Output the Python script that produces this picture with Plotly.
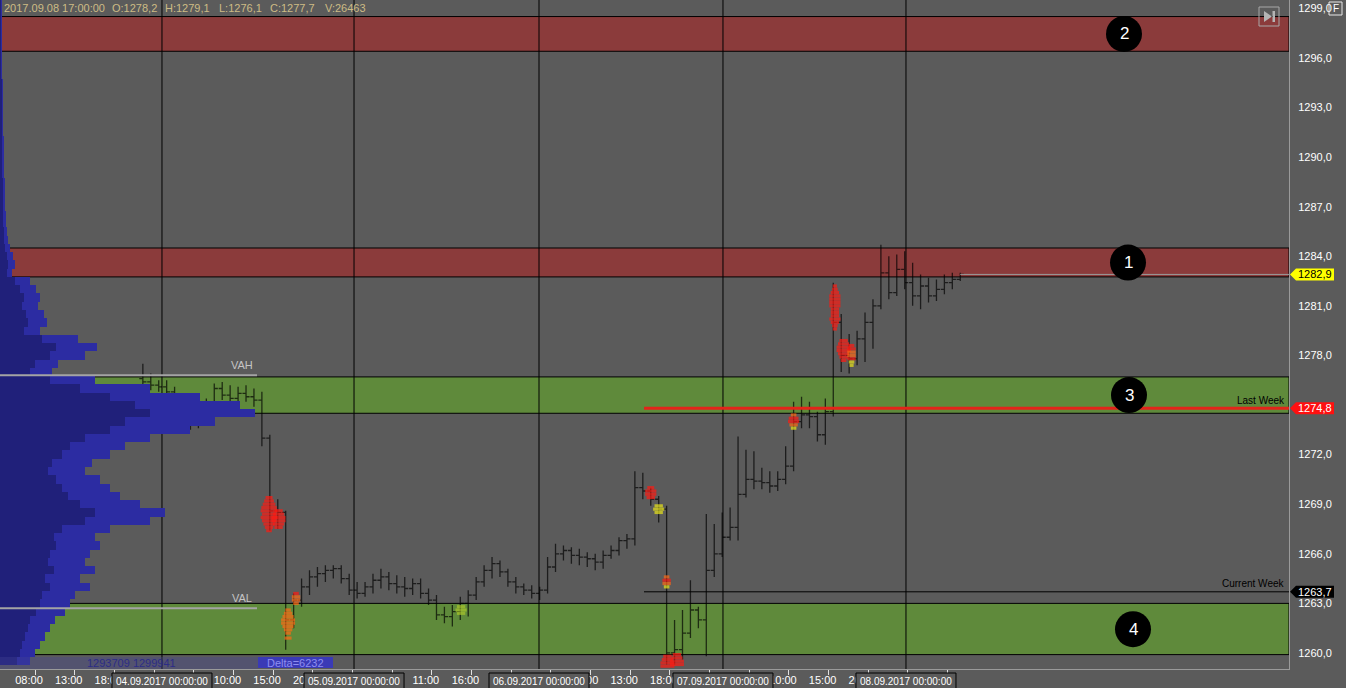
import plotly.graph_objects as go

# ------------------------------------------------------------------ data
header_fields = ["2017.09.08 17:00:00", "O:1278,2", "H:1279,1", "L:1276,1", "C:1277,7", "V:26463"]

price_ticks = [1260, 1263, 1266, 1269, 1272, 1275, 1278, 1281, 1284, 1287, 1290, 1293, 1296, 1299]
# the 1275,0 label is hidden behind the red price tag in the original
price_tick_labels = ["1260,0", "1263,0", "1266,0", "1269,0", "1272,0", "", "1278,0",
                     "1281,0", "1284,0", "1287,0", "1290,0", "1293,0", "1296,0", "1299,0"]

# time ticks every 5 trading hours; labels hidden behind the date boxes are left blank
time_tick_hours = [4.41, 9.41, 14.41, 19.41, 24.41, 29.41, 34.41, 39.41, 44.41, 49.41, 54.41, 59.41,
                   64.41, 69.41, 74.41, 79.41, 84.41, 89.41, 94.41, 99.41, 104.41, 109.41, 114.41, 119.41]
time_tick_labels = ["08:00", "13:00", "18:00", "", "", "10:00", "15:00", "20:00", "", "",
                    "11:00", "16:00", "", "", "08:00", "13:00", "18:00", "", "", "10:00",
                    "15:00", "20:00", "", ""]

day_boundary_hours = [20.41, 44.61, 67.92, 91.10, 114.16]
day_labels = ["04.09.2017 00:00:00", "05.09.2017 00:00:00", "06.09.2017 00:00:00",
              "07.09.2017 00:00:00", "08.09.2017 00:00:00"]

# resistance (red) and support (green) zones: (low, high)
red_zones = [(1296.4, 1298.5), (1282.75, 1284.5)]
green_zones = [(1274.5, 1276.7), (1259.9, 1263.0)]
zone_numbers = ["2", "1", "3", "4"]
zone_number_prices = [1297.45, 1283.62, 1275.6, 1261.44]

vah_level = 1276.8
val_level = 1262.7
last_week_level = 1274.8
current_week_level = 1263.7
week_start_hour = 81.15
last_price = 1282.9

# hourly bars
bar_hour = list(range(18, 122))
bar_open = [1276.6, 1276.4, 1276.2, 1276.1, 1275.8, 1275.6, 1274.0, 1273.9, 1274.2, 1275.0, 1276.0, 1275.6,
            1275.4, 1275.7, 1275.5, 1275.3, 1273.0, 1268.6, 1268.5, 1262.0, 1263.2, 1264.0, 1264.6, 1264.8,
            1265.0, 1265.1, 1264.5, 1263.8, 1263.6, 1264.0, 1264.4, 1264.6, 1264.2, 1264.0, 1263.9, 1264.2,
            1263.6, 1263.2, 1262.3, 1262.2, 1262.5, 1263.0, 1263.5, 1264.3, 1265.0, 1265.4, 1264.9, 1264.3,
            1264.0, 1263.8, 1263.6, 1263.8, 1265.2, 1266.0, 1266.2, 1265.9, 1265.8, 1265.7, 1265.5, 1265.9,
            1266.2, 1266.8, 1266.9, 1270.0, 1269.8, 1269.3, 1268.7, 1260.0, 1260.2, 1261.2, 1262.6, 1262.0,
            1265.0, 1266.0, 1267.0, 1267.6, 1269.6, 1270.5, 1270.4, 1270.3, 1270.1, 1270.5, 1271.3, 1274.0,
            1274.4, 1274.3, 1273.2, 1274.6, 1280.0, 1278.0, 1277.8, 1279.0, 1280.0, 1281.0, 1283.0, 1281.8,
            1283.2, 1282.4, 1281.6, 1282.2, 1281.6, 1282.0, 1282.4, 1282.6]
bar_high = [1277.5, 1276.9, 1276.5, 1276.5, 1276.1, 1275.7, 1274.4, 1274.6, 1275.4, 1276.3, 1276.4, 1276.2,
            1276.1, 1276.2, 1276.0, 1275.8, 1273.2, 1269.3, 1268.6, 1263.6, 1264.5, 1265.0, 1265.2, 1265.3,
            1265.3, 1265.3, 1264.8, 1264.3, 1264.3, 1264.8, 1265.1, 1264.9, 1264.7, 1264.6, 1264.5, 1264.5,
            1263.9, 1263.5, 1262.8, 1262.9, 1263.4, 1263.8, 1264.6, 1265.3, 1265.8, 1265.6, 1265.1, 1264.6,
            1264.2, 1264.1, 1264.0, 1265.8, 1266.6, 1266.5, 1266.4, 1266.3, 1266.1, 1266.0, 1266.2, 1266.5,
            1267.0, 1267.2, 1271.0, 1270.9, 1270.0, 1269.5, 1268.9, 1262.0, 1262.6, 1264.4, 1262.8, 1268.4,
            1267.8, 1268.5, 1268.8, 1273.1, 1272.3, 1272.2, 1271.2, 1271.0, 1271.0, 1272.5, 1275.2, 1275.5,
            1275.2, 1274.6, 1275.4, 1282.4, 1280.5, 1279.3, 1279.5, 1280.6, 1281.4, 1284.7, 1284.0, 1284.1,
            1284.3, 1283.6, 1282.9, 1282.7, 1282.6, 1282.9, 1283.0, 1283.0]
bar_low = [1276.0, 1275.9, 1275.8, 1275.5, 1275.3, 1273.9, 1273.5, 1273.6, 1274.0, 1274.8, 1275.3, 1275.1,
           1275.0, 1275.2, 1274.9, 1272.5, 1267.4, 1267.5, 1260.2, 1261.5, 1262.8, 1263.5, 1264.0, 1264.3,
           1264.5, 1264.2, 1263.5, 1263.3, 1263.4, 1263.6, 1263.9, 1263.8, 1263.6, 1263.4, 1263.5, 1263.3,
           1262.9, 1262.0, 1261.8, 1261.6, 1262.0, 1262.2, 1263.2, 1264.0, 1264.5, 1264.6, 1264.0, 1263.6,
           1263.5, 1263.3, 1263.2, 1263.6, 1264.9, 1265.6, 1265.4, 1265.3, 1265.2, 1265.0, 1265.1, 1265.7,
           1265.9, 1266.3, 1266.5, 1269.3, 1268.9, 1267.9, 1259.3, 1259.3, 1259.6, 1260.9, 1261.5, 1259.8,
           1264.6, 1265.8, 1266.8, 1266.8, 1269.4, 1269.9, 1269.9, 1269.7, 1269.8, 1270.2, 1271.0, 1273.6,
           1273.6, 1272.8, 1272.6, 1274.3, 1277.0, 1276.9, 1277.4, 1277.6, 1278.4, 1280.8, 1281.4, 1281.6,
           1282.0, 1281.0, 1280.8, 1281.2, 1281.3, 1281.7, 1282.0, 1282.5]
bar_close = [1276.4, 1276.2, 1276.1, 1275.8, 1275.6, 1274.0, 1273.9, 1274.2, 1275.0, 1276.0, 1275.6, 1275.4,
             1275.7, 1275.5, 1275.3, 1273.0, 1268.6, 1268.5, 1262.0, 1263.2, 1264.0, 1264.6, 1264.8, 1265.0,
             1265.1, 1264.5, 1263.8, 1263.6, 1264.0, 1264.4, 1264.6, 1264.2, 1264.0, 1263.9, 1264.2, 1263.6,
             1263.2, 1262.3, 1262.2, 1262.5, 1263.0, 1263.5, 1264.3, 1265.0, 1265.4, 1264.9, 1264.3, 1264.0,
             1263.8, 1263.6, 1263.8, 1265.2, 1266.0, 1266.2, 1265.9, 1265.8, 1265.7, 1265.5, 1265.9, 1266.2,
             1266.8, 1266.9, 1270.0, 1269.8, 1269.3, 1268.7, 1260.0, 1260.2, 1261.2, 1262.6, 1262.0, 1265.0,
             1266.0, 1267.0, 1267.6, 1269.6, 1270.5, 1270.4, 1270.3, 1270.1, 1270.5, 1271.3, 1274.0, 1274.4,
             1274.3, 1273.2, 1274.6, 1280.0, 1278.0, 1277.8, 1279.0, 1280.0, 1281.0, 1283.0, 1281.8, 1283.2,
             1282.4, 1281.6, 1282.2, 1281.6, 1282.0, 1282.4, 1282.6, 1282.9]

# high-volume clusters (footprint highlights)
cl_hour = [33.9, 35.1, 36.3, 37.3, 58.1, 82.0, 83.0, 84.0, 84.1, 85.3, 100.0, 105.2, 106.3, 107.3]
cl_prices = [
    [1269.4, 1269.2, 1269.0, 1268.8, 1268.6, 1268.4, 1268.2, 1268.0, 1267.8, 1267.6, 1267.4],
    [1268.6, 1268.4, 1268.2, 1268.0, 1267.8, 1267.6],
    [1262.6, 1262.4, 1262.2, 1262.0, 1261.8, 1261.6, 1261.4, 1261.2, 1260.9],
    [1263.6, 1263.4, 1263.2, 1263.0],
    [1262.8, 1262.6, 1262.4],
    [1270.0, 1269.8, 1269.6, 1269.4],
    [1268.9, 1268.7, 1268.5],
    [1264.6, 1264.4, 1264.2, 1264.0],
    [1259.8, 1259.6, 1259.4, 1259.2],
    [1259.9, 1259.7, 1259.5, 1259.3],
    [1274.4, 1274.2, 1274.0, 1273.8, 1273.6],
    [1282.2, 1282.0, 1281.8, 1281.6, 1281.4, 1281.2, 1281.0, 1280.8, 1280.6, 1280.4, 1280.2, 1280.0, 1279.8, 1279.6],
    [1278.9, 1278.7, 1278.5, 1278.3, 1278.1, 1277.9, 1277.7],
    [1278.6, 1278.4, 1278.2, 1278.0, 1277.8, 1277.6, 1277.4],
]
cl_volume = [
    [5, 7, 9, 11, 12, 10, 12, 10, 8, 6, 4],
    [6, 8, 10, 10, 8, 6],
    [4, 6, 8, 10, 10, 8, 6, 4, 5],
    [4, 6, 6, 4],
    [6, 8, 6],
    [5, 8, 8, 6],
    [6, 8, 6],
    [4, 6, 6, 4],
    [6, 8, 10, 10],
    [6, 8, 10, 10],
    [4, 7, 8, 6, 4],
    [3, 4, 6, 8, 8, 8, 8, 6, 6, 6, 8, 6, 4, 3],
    [6, 8, 10, 10, 8, 6, 4],
    [4, 6, 6, 6, 6, 4, 3],
]
cl_level = [  # r = red, o = orange, y = yellow, g = yellow-green
    "rrrrrrrrrrr", "rrrrrr", "oooooooooy", "rooo", "ggg", "rrrr", "yyy", "oroy", "rrrr", "rrrr",
    "orroy", "rrrrrrrrrrrrrr", "rrrrrrr", "rrooryy",
]

# volume profile (0.5 price steps, top to bottom)
profile_price = [1299.5 - 0.5 * i for i in range(81)]
profile_total = [20, 20, 20, 20, 20, 20, 20, 20, 20, 20, 30, 30, 30, 30, 30, 30, 30, 40, 40, 40, 40, 40,
                 50, 50, 50, 50, 60, 60, 70, 80, 100, 130, 150, 120, 300, 360, 400, 380, 440, 470, 400,
                 780, 970, 850, 580, 520, 950, 1500, 2000, 2400, 2550, 2150, 1900, 1500, 1250, 1100, 920,
                 850, 1000, 1100, 1200, 1400, 1650, 1500, 1100, 950, 1000, 900, 850, 950, 800, 900, 750,
                 700, 650, 550, 500, 450, 400, 350, 300]
profile_inner = [10, 10, 10, 10, 10, 10, 10, 10, 10, 10, 15, 15, 15, 15, 15, 15, 15, 20, 20, 20, 20, 20,
                 25, 25, 25, 25, 30, 30, 40, 40, 50, 70, 80, 70, 150, 200, 240, 220, 260, 280, 240,
                 420, 560, 500, 350, 300, 500, 800, 1100, 1350, 1500, 1250, 1100, 850, 700, 620, 520,
                 480, 560, 620, 680, 800, 950, 850, 620, 540, 560, 500, 480, 540, 450, 500, 420,
                 400, 360, 300, 280, 250, 220, 200, 170]
session_stats = "1293709 1299941"
delta_text = "Delta=6232"

# ------------------------------------------------------------------ geometry helpers
PLOT_W, PLOT_H = 1289, 669
PX_PER_HOUR = 7.936
X_MAX = PLOT_W / PX_PER_HOUR
PX_PER_PT = 16.53
Y_TOP = 1299 + 8.3 / PX_PER_PT
Y_BOT = Y_TOP - PLOT_H / PX_PER_PT


def xp(p):
    return p / PLOT_W


def yp(p):
    return (PLOT_H - p) / PLOT_H


BG = "#5b5b5b"
FONT = "Liberation Sans, Arial, sans-serif"
RED = "#8b3b3b"
GREEN = "#5f8a3b"
CL_COLORS = {"r": "#ff1a12", "o": "#ff6a14", "y": "#e8e41a", "g": "#a9c62a"}


def note(x, y, text, size=11, color="white", xref="paper", yref="paper", xanchor="center"):
    return dict(xref=xref, yref=yref, x=x, y=y, text=text, showarrow=False, xanchor=xanchor,
                yanchor="middle", font=dict(family=FONT, size=size, color=color))


fig = go.Figure()

# volume profile
fig.add_trace(go.Bar(y=profile_price, x=profile_total, orientation="h", width=0.5,
                     marker=dict(color="#2c2ca2", line=dict(width=0)), xaxis="x2", hoverinfo="skip"))
fig.add_trace(go.Bar(y=profile_price, x=profile_inner, orientation="h", width=0.5,
                     marker=dict(color="#20207a", line=dict(width=0)), xaxis="x2", hoverinfo="skip"))

# price bars
fig.add_trace(go.Ohlc(x=bar_hour, open=bar_open, high=bar_high, low=bar_low, close=bar_close,
                      increasing=dict(line=dict(color="black", width=1.3)),
                      decreasing=dict(line=dict(color="black", width=1.3)),
                      tickwidth=0.45, opacity=0.68, hoverinfo="skip"))

# clusters
cx, cy, cs, cc = [], [], [], []
for h, ps, vs, lv in zip(cl_hour, cl_prices, cl_volume, cl_level):
    for p, v, c in zip(ps, vs, lv):
        cx.append(h)
        cy.append(p)
        cs.append(v)
        cc.append(CL_COLORS[c])
fig.add_trace(go.Scatter(x=cx, y=cy, mode="markers", hoverinfo="skip",
                         marker=dict(symbol="line-ew", size=cs, line=dict(width=3.2, color=cc))))

shapes = []
annotations = []

# zones
for lo, hi in red_zones:
    shapes.append(dict(type="rect", xref="paper", yref="y", x0=0, x1=1, y0=lo, y1=hi,
                       fillcolor=RED, line=dict(color="black", width=1), layer="below"))
for lo, hi in green_zones:
    shapes.append(dict(type="rect", xref="paper", yref="y", x0=0, x1=1, y0=lo, y1=hi,
                       fillcolor=GREEN, line=dict(color="black", width=1), layer="below"))
# day separators
for h in day_boundary_hours:
    shapes.append(dict(type="line", xref="x", yref="paper", x0=h, x1=h, y0=0, y1=1,
                       line=dict(color="black", width=1), layer="below"))

# VAH / VAL
for lvl, name in [(vah_level, "VAH"), (val_level, "VAL")]:
    shapes.append(dict(type="line", xref="paper", yref="y", x0=0, x1=xp(257), y0=lvl, y1=lvl,
                       line=dict(color="#a4a4a4", width=2), layer="above"))
    annotations.append(note(xp(242), lvl + 0.65, name, color="#c4c4c4", yref="y"))

# weekly levels
shapes.append(dict(type="line", xref="x", yref="y", x0=week_start_hour, x1=X_MAX,
                   y0=current_week_level, y1=current_week_level, line=dict(color="black", width=1), layer="above"))
shapes.append(dict(type="line", xref="x", yref="y", x0=week_start_hour, x1=X_MAX,
                   y0=last_week_level, y1=last_week_level, line=dict(color="#e3241a", width=3), layer="above"))
shapes.append(dict(type="line", xref="x", yref="y", x0=bar_hour[-1], x1=X_MAX,
                   y0=last_price, y1=last_price, line=dict(color="#9a9a9a", width=1), layer="above"))
annotations.append(note(xp(1287), current_week_level + 0.5, "Current Week", size=10, color="black",
                        yref="y", xanchor="right"))
annotations.append(note(xp(1287), last_week_level + 0.5, "Last Week", size=10, color="black",
                        yref="y", xanchor="right"))

# numbered circles
circle_px = [1124, 1128, 1129, 1133]
for num, price, cxp in zip(zone_numbers, zone_number_prices, circle_px):
    cyp = 8.3 + (1299 - price) * PX_PER_PT
    shapes.append(dict(type="circle", xref="paper", yref="paper", x0=xp(cxp - 18), x1=xp(cxp + 18),
                       y0=yp(cyp + 18), y1=yp(cyp - 18), fillcolor="black", line=dict(width=0), layer="above"))
    annotations.append(note(xp(cxp), price, num, size=17, yref="y"))

# price tags on the right axis
half = 6 / PX_PER_PT
for price, fill, tcol in [(last_price, "#ffff00", "black"), (last_week_level, "#ff1010", "white"),
                          (current_week_level, "#000000", "white")]:
    path = (f"M {xp(1290)},{price} L {xp(1296)},{price + half} L {xp(1334)},{price + half} "
            f"L {xp(1334)},{price - half} L {xp(1296)},{price - half} Z")
    shapes.append(dict(type="path", xref="paper", yref="y", path=path, fillcolor=fill,
                       line=dict(width=0), layer="above"))
    annotations.append(note(xp(1315), price, f"{price:.1f}".replace(".", ","), color=tcol, yref="y"))

# date boxes on the time axis
for h, lab in zip(day_boundary_hours, day_labels):
    cpx = h * PX_PER_HOUR
    shapes.append(dict(type="rect", xref="paper", yref="paper", x0=xp(cpx - 50), x1=xp(cpx + 50),
                       y0=yp(690), y1=yp(673), fillcolor=BG, line=dict(color="black", width=1), layer="above"))
    annotations.append(note(xp(cpx), yp(681), lab, size=10))

# header
header_px = [2, 110, 163, 217, 268, 323]
for t, hx in zip(header_fields, header_px):
    annotations.append(note(xp(hx), yp(8), t, color="#cdbb85", xanchor="left"))

# bottom-left info band
shapes.append(dict(type="rect", xref="paper", yref="paper", x0=0, x1=xp(258), y0=0, y1=yp(657),
                   fillcolor="rgba(70,70,150,0.35)", line=dict(width=0), layer="above"))
annotations.append(note(xp(131), yp(663), session_stats, color="#2c2c86"))
shapes.append(dict(type="rect", xref="paper", yref="paper", x0=xp(258), x1=xp(333), y0=yp(668), y1=yp(657),
                   fillcolor="#3a3ab6", line=dict(width=0), layer="above"))
annotations.append(note(xp(295), yp(662.5), delta_text, color="#8e8ef0"))

# top-right icons
shapes.append(dict(type="rect", xref="paper", yref="paper", x0=xp(1259), x1=xp(1279), y0=yp(26), y1=yp(7),
                   line=dict(color="#a8a8a8", width=1), layer="above"))
shapes.append(dict(type="path", xref="paper", yref="paper",
                   path=f"M {xp(1264)},{yp(11)} L {xp(1272)},{yp(16.5)} L {xp(1264)},{yp(22)} Z",
                   fillcolor="#b4b4b4", line=dict(width=0), layer="above"))
shapes.append(dict(type="rect", xref="paper", yref="paper", x0=xp(1272.5), x1=xp(1275), y0=yp(22), y1=yp(11),
                   fillcolor="#b4b4b4", line=dict(width=0), layer="above"))
shapes.append(dict(type="rect", xref="paper", yref="paper", x0=xp(1329), x1=xp(1342), y0=yp(15), y1=yp(2),
                   line=dict(color="#e8e8e8", width=1), layer="above"))
annotations.append(note(xp(1335.5), yp(8.5), "F", size=10))

fig.update_layout(
    width=1346, height=688,
    margin=dict(l=0, r=57, t=0, b=19, autoexpand=False),
    paper_bgcolor=BG, plot_bgcolor=BG,
    showlegend=False, barmode="overlay", bargap=0,
    shapes=shapes, annotations=annotations,
    font=dict(family=FONT, size=11, color="white"),
    xaxis=dict(range=[0, X_MAX], showgrid=False, zeroline=False, showline=True, linecolor="#9a9a9a",
               linewidth=1, ticks="outside", ticklen=5, tickcolor="#e0e0e0", tickvals=time_tick_hours,
               ticktext=time_tick_labels, tickfont=dict(family=FONT, size=11, color="white"),
               ticklabelshift=-6, ticklabelstandoff=-4, rangeslider=dict(visible=False), fixedrange=True),
    xaxis2=dict(range=[0, PLOT_W * 10], overlaying="x", visible=False, fixedrange=True),
    yaxis=dict(range=[Y_BOT, Y_TOP], side="right", showgrid=False, zeroline=False, showline=True,
               linecolor="#9a9a9a", linewidth=1, ticks="outside", ticklen=6, tickcolor=BG,
               tickvals=price_ticks, ticktext=price_tick_labels,
               tickfont=dict(family=FONT, size=11, color="white"), fixedrange=True),
)

fig.write_html("out.html", config={"displayModeBar": False},
               post_script="document.body.style.margin='0';document.body.style.overflow='hidden';")
